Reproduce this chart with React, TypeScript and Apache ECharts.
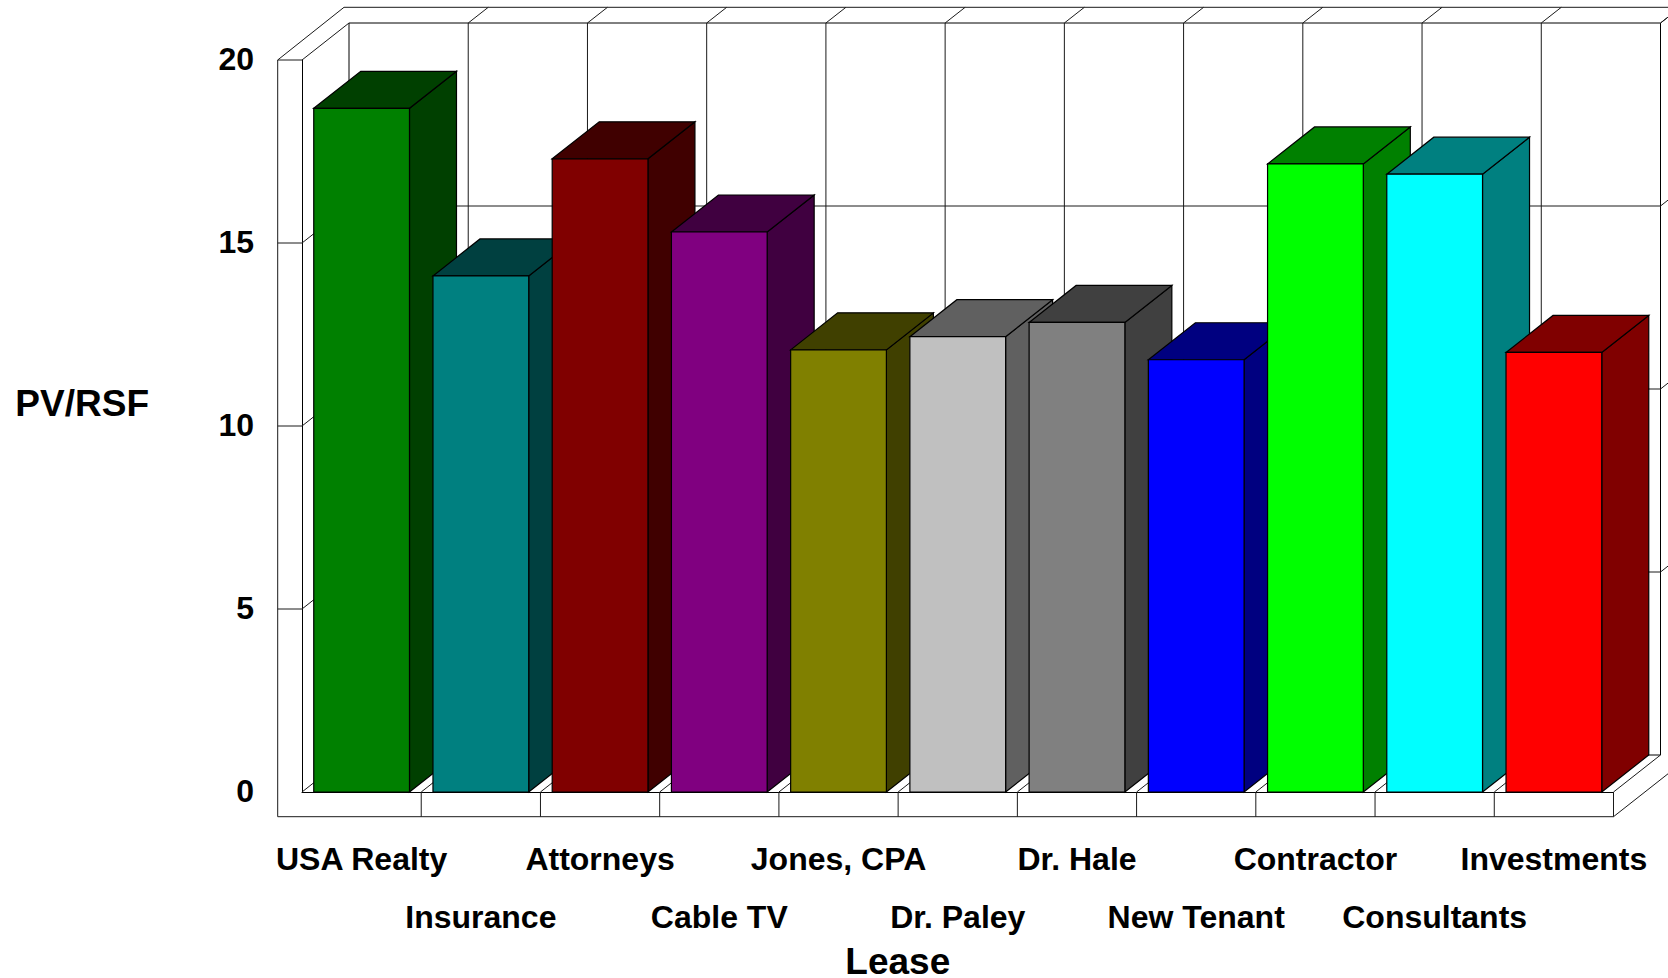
import React, { useEffect, useRef } from "react";
import * as echarts from "echarts";

const categories = [
  "USA Realty", "Insurance", "Attorneys", "Cable TV", "Jones, CPA", "Dr. Paley",
  "Dr. Hale", "New Tenant", "Contractor", "Consultants", "Investments",
];
const pvPerRsf = [18.68, 14.1, 17.3, 15.3, 12.08, 12.44, 12.83, 11.81, 17.16, 16.88, 12.01];
const frontColors = [
  "#008000", "#008080", "#800000", "#800080", "#808000", "#C0C0C0",
  "#808080", "#0000FF", "#00FF00", "#00FFFF", "#FF0000",
];
const shadeColors = [
  "#004000", "#004040", "#400000", "#400040", "#404000", "#606060",
  "#404040", "#000080", "#008000", "#008080", "#800000",
];
const valueTicks = [0, 5, 10, 15, 20];

const FONT = "'Liberation Sans', Arial, sans-serif";
const DEPTH_X = 47;
const DEPTH_Y = 37;
const PLATE_W = 24.3;
const PLATE_H = 24.7;
const BAR_RATIO = 0.803;
const EDGE = { stroke: "#000", lineWidth: 1.2 };
const WALL = { stroke: "#1a1a1a", lineWidth: 1 };

const seg = (x1: number, y1: number, x2: number, y2: number, style = WALL) => ({
  type: "line",
  silent: true,
  shape: { x1, y1, x2, y2 },
  style: { ...style, fill: null },
});

// Back wall, floor and the side plates of the 3D box.
function renderFrame(params: any, api: any) {
  const cs = params.coordinateSys ?? params.coordSys;
  const left = cs.x;
  const right = cs.x + cs.width;
  const floor = api.coord([0, 0])[1];
  const ceil = api.coord([0, 20])[1];
  const band = api.size([1, 0])[0];
  const kids: any[] = [];
  const topLine = ceil - DEPTH_Y - 15.7;

  kids.push({
    type: "rect",
    silent: true,
    shape: { x: left + DEPTH_X, y: ceil - DEPTH_Y, width: cs.width, height: cs.height },
    style: { fill: "#fff", stroke: "#000", lineWidth: 1 },
  });
  // Left plate
  kids.push(seg(left - PLATE_W, ceil, left - PLATE_W, floor + PLATE_H));
  kids.push(seg(left - PLATE_W, ceil, left, ceil));
  kids.push(seg(left - PLATE_W, ceil, left + DEPTH_X - 5, topLine));
  kids.push(seg(left, ceil, left + DEPTH_X, ceil - DEPTH_Y));
  kids.push(seg(left + DEPTH_X - 5, topLine, right + DEPTH_X + 60, topLine));
  // Bottom plate
  kids.push(seg(left - PLATE_W, floor + PLATE_H, right, floor + PLATE_H));
  kids.push(seg(right, floor, right, floor + PLATE_H));
  kids.push(seg(right, floor + PLATE_H, right + DEPTH_X * 2, floor + PLATE_H - DEPTH_Y * 2));
  kids.push(seg(left, floor, left + DEPTH_X, floor - DEPTH_Y));
  kids.push(seg(right, floor, right + DEPTH_X, floor - DEPTH_Y));

  for (let k = 1; k <= 11; k++) {
    const x = left + band * k;
    if (k < 11) {
      kids.push(seg(x, floor, x, floor + PLATE_H));
      kids.push(seg(x, floor, x + DEPTH_X, floor - DEPTH_Y));
      kids.push(seg(x + DEPTH_X, ceil - DEPTH_Y, x + DEPTH_X, floor - DEPTH_Y));
    }
    kids.push(seg(x + DEPTH_X, ceil - DEPTH_Y, x + DEPTH_X + 20, topLine));
  }
  valueTicks.slice(1).forEach((v) => {
    const y = api.coord([0, v])[1];
    const back = y - DEPTH_Y;
    if (v < 20) {
      kids.push(seg(left - PLATE_W, y, left, y));
      kids.push(seg(left, y, left + DEPTH_X, back));
      kids.push(seg(left + DEPTH_X, back, right + DEPTH_X, back));
    }
    kids.push(seg(right + DEPTH_X, back, right + DEPTH_X + 20, back - 15.7));
  });
  return { type: "group", children: kids };
}

// One box per lease: front face, shaded top and shaded right side.
function renderBar(params: any, api: any) {
  const i = params.dataIndex;
  const [cx, top] = api.coord([i, api.value(1)]);
  const base = api.coord([i, 0])[1];
  const w = api.size([1, 0])[0] * BAR_RATIO;
  const x0 = cx - w / 2;
  const x1 = cx + w / 2;
  const shade = shadeColors[i];
  return {
    type: "group",
    children: [
      {
        type: "polygon",
        shape: { points: [[x1, top], [x1 + DEPTH_X, top - DEPTH_Y], [x1 + DEPTH_X, base - DEPTH_Y], [x1, base]] },
        style: { fill: shade, ...EDGE },
      },
      {
        type: "polygon",
        shape: { points: [[x0, top], [x0 + DEPTH_X, top - DEPTH_Y], [x1 + DEPTH_X, top - DEPTH_Y], [x1, top]] },
        style: { fill: shade, ...EDGE },
      },
      {
        type: "rect",
        shape: { x: x0, y: top, width: w, height: base - top },
        style: { fill: frontColors[i], ...EDGE },
      },
    ],
  };
}

export default function App() {
  const ref = useRef<HTMLDivElement>(null);
  useEffect(() => {
    const chart = echarts.init(ref.current!, undefined, { renderer: "svg" });
    chart.setOption({
      animation: false,
      backgroundColor: "#fff",
      grid: { left: 302, top: 60, width: 1311.5, height: 732, containLabel: false, outerBoundsMode: "none" },
      xAxis: {
        type: "category",
        data: categories,
        name: "Lease",
        nameLocation: "middle",
        nameGap: 152,
        nameMoveOverlap: false,
        nameTextStyle: {
          fontFamily: FONT,
          fontWeight: "bold",
          fontSize: 37,
          lineHeight: 34,
          color: "#000",
          padding: [0, 120, 0, 0],
        },
        axisTick: { show: false },
        axisLine: { show: true, lineStyle: { color: "#000", width: 1 } },
        axisLabel: {
          interval: 0,
          margin: 38,
          hideOverlap: false,
          fontFamily: FONT,
          fontWeight: "bold",
          fontSize: 32,
          color: "#000",
          lineHeight: 58,
          formatter: (name: string, index: number) => (index % 2 ? "\n" + name : name),
        },
      },
      yAxis: {
        type: "value",
        min: 0,
        max: 20,
        interval: 5,
        name: "PV/RSF",
        nameLocation: "middle",
        nameRotate: 0,
        nameGap: 153,
        nameMoveOverlap: false,
        nameTextStyle: { fontFamily: FONT, fontWeight: "bold", fontSize: 37, color: "#000", verticalAlign: "bottom", padding: [0, 0, 4, 0] },
        splitLine: { show: false },
        axisTick: { show: false },
        axisLine: { show: true, lineStyle: { color: "#000", width: 1 } },
        axisLabel: {
          margin: 48,
          fontFamily: FONT,
          fontWeight: "bold",
          fontSize: 32,
          color: "#000",
          formatter: (v: number) => `{tick|${v}}`,
          rich: { tick: { fontFamily: FONT, fontWeight: "bold", fontSize: 32, color: "#000", padding: [0, 0, 3, 0] } },
        },
      },
      series: [
        { type: "custom", name: "frame", data: [[0, 0]], z: 1, silent: true, renderItem: renderFrame },
        {
          type: "custom",
          name: "PV/RSF",
          z: 2,
          silent: true,
          data: pvPerRsf.map((v, i) => [i, v]),
          encode: { x: 0, y: 1 },
          renderItem: renderBar,
        },
      ],
    });
    return () => chart.dispose();
  }, []);
  return <div ref={ref} style={{ position: "fixed", left: 0, top: 0, width: 1668, height: 978 }} />;
}
